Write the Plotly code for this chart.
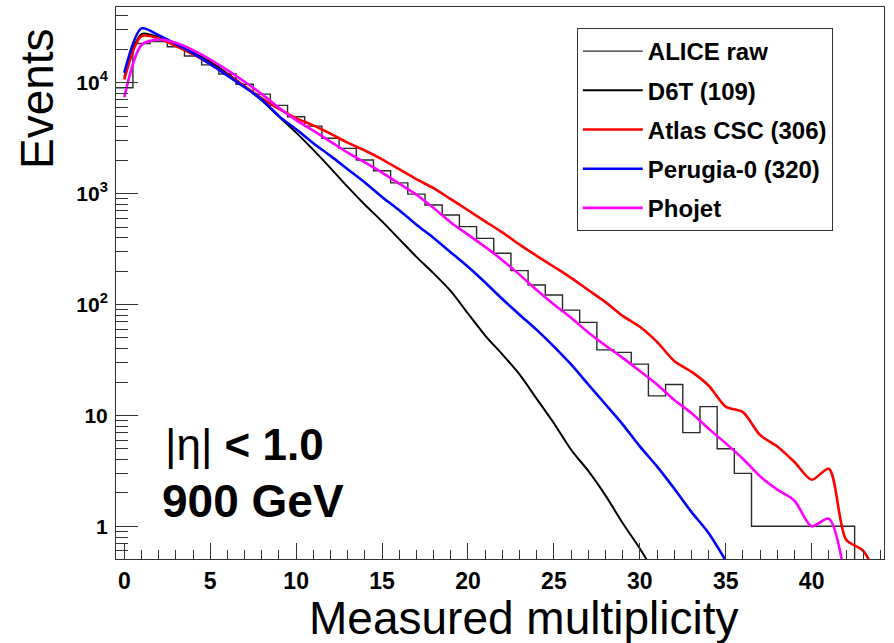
import plotly.graph_objects as go

# Raw ALICE multiplicity histogram (unit bins centred on integers)
alice_bins = list(range(0, 44))
alice_raw = [9000, 22600, 23500, 21100, 17400, 14500, 12000, 9700, 7900, 6250,
             4930, 4060, 3160, 2560, 2010, 1610, 1250, 990, 789, 641,
             504, 395, 290, 202, 150, 122, 89, 69, 39, 37,
             29, 15, 19, 7, 12, 5, 3, 1, 1, 1,
             1, 1, 1, 0]

# Monte Carlo predictions, evaluated at each multiplicity bin
d6t_x = list(range(0, 32))
d6t = [11200, 27500, 25700, 22400, 18800, 15400, 12100, 9300, 6900, 4950,
       3550, 2480, 1700, 1150, 794, 562, 389, 269, 191, 132,
       83, 52.5, 35.5, 23.4, 14.1, 8.5, 4.9, 3.16, 1.9, 1.07,
       0.63, 0.35]

atlas_x = list(range(0, 45))
atlas = [10700, 26300, 25100, 21400, 18000, 14700, 11800, 9300, 7250, 5800,
         4800, 4120, 3470, 2880, 2450, 2040, 1660, 1350, 1120, 891,
         708, 562, 447, 347, 275, 219, 174, 135, 105, 79,
         63, 46, 31, 24.8, 18.6, 12, 10.7, 6.65, 5.25, 3.8,
         2.63, 3.3, 0.76, 0.6, 0.3]

perugia_x = list(range(0, 36))
perugia = [12300, 30900, 26900, 22400, 18400, 14700, 11600, 9100, 7050, 5000,
           3800, 2850, 2190, 1660, 1260, 933, 708, 525, 398, 295,
           219, 158, 112, 81, 59, 41.7, 28.8, 19, 12.6, 8.3,
           5.25, 3.47, 2.19, 1.35, 0.87, 0.49]

phojet_x = list(range(0, 43))
phojet = [7410, 21900, 24500, 22900, 19700, 16200, 13000, 10200, 7900, 5950,
          4600, 3700, 2950, 2340, 1910, 1550, 1230, 977, 741, 550,
          427, 331, 251, 186, 135, 100, 76, 56, 42.7, 33,
          25.1, 19, 13.8, 10.5, 7.6, 5.6, 4.07, 2.82, 2.14, 1.7,
          1.0, 1.17, 0.3]

y_tickvals = [1, 10, 100, 1000, 10000]
y_ticktext = ["1", "10", "10<sup>2</sup>", "10<sup>3</sup>", "10<sup>4</sup>"]
x_tickvals = [0, 5, 10, 15, 20, 25, 30, 35, 40]

X_RANGE = [-0.483, 44.21]
LOG_Y_RANGE = [-0.295, 4.683]

FONT = "Liberation Sans, Arial, Helvetica, sans-serif"

# Step outline of the histogram: one point per bin edge
floor = 10 ** (LOG_Y_RANGE[0] - 1)
step_x = [b - 0.5 for b in alice_bins] + [alice_bins[-1] + 0.5]
step_y = [c if c > 0 else floor for c in alice_raw]
step_y = step_y + [step_y[-1]]

fig = go.Figure()

fig.add_trace(go.Scatter(
    x=step_x, y=step_y, mode="lines", name="ALICE raw",
    line=dict(color="#2a2a2a", width=1.4, shape="hv"),
    legendgroup="a",
))

curves = [
    ("D6T (109)", d6t_x, d6t, "#000000", 2.0, "b"),
    ("Atlas CSC (306)", atlas_x, atlas, "#ff0000", 2.6, "c"),
    ("Perugia-0 (320)", perugia_x, perugia, "#0000ff", 2.6, "d"),
    ("Phojet", phojet_x, phojet, "#ff00ff", 2.6, "e"),
]
for name, xs, ys, color, width, grp in curves:
    fig.add_trace(go.Scatter(
        x=xs, y=ys, mode="lines", name=name,
        line=dict(color=color, width=width, shape="spline", smoothing=0.8),
        legendgroup=grp,
    ))

y_minor = [m * 10 ** k for k in range(-1, 5) for m in range(2, 10)]
y_minor = [v for v in y_minor if 10 ** LOG_Y_RANGE[0] < v < 10 ** LOG_Y_RANGE[1]]

fig.update_xaxes(
    range=X_RANGE, showgrid=False, zeroline=False,
    showline=True, linecolor="#333333", linewidth=1, mirror=True,
    ticks="inside", ticklen=16, tickwidth=1, tickcolor="#333333",
    tickvals=x_tickvals, ticklabelstandoff=1,
    tickfont=dict(family=FONT, size=23, color="#000000", weight="bold"),
    minor=dict(ticks="inside", ticklen=9, tickwidth=1, tickcolor="#333333",
               dtick=1, tick0=0, showgrid=False),
)
fig.update_yaxes(
    type="log", range=LOG_Y_RANGE, showgrid=False, zeroline=False,
    showline=True, linecolor="#333333", linewidth=1, mirror=True,
    ticks="inside", ticklen=22, tickwidth=1, tickcolor="#333333",
    tickvals=y_tickvals, ticktext=y_ticktext, ticklabelstandoff=3,
    tickfont=dict(family=FONT, size=21, color="#000000", weight="bold"),
    minor=dict(ticks="inside", ticklen=12, tickwidth=1, tickcolor="#333333",
               tickvals=y_minor, showgrid=False),
)

fig.add_annotation(
    text="Events", textangle=-90, xref="paper", yref="paper",
    x=-0.1029, y=0.835, xanchor="center", yanchor="middle", showarrow=False,
    font=dict(family=FONT, size=46, color="#000000"),
)
fig.add_annotation(
    text="Measured multiplicity", xref="paper", yref="paper",
    x=0.5306, y=-0.106, xanchor="center", yanchor="middle", showarrow=False,
    font=dict(family=FONT, size=46, color="#000000"),
)
fig.add_annotation(
    text="|η| <b>&lt; 1.0</b>", xref="paper", yref="paper",
    x=0.0612, y=0.207, xanchor="left", yanchor="middle", showarrow=False,
    font=dict(family=FONT, size=44, color="#000000"),
)
fig.add_annotation(
    text="<b>900 GeV</b>", xref="paper", yref="paper",
    x=0.0573, y=0.105, xanchor="left", yanchor="middle", showarrow=False,
    font=dict(family=FONT, size=46, color="#000000"),
)

fig.update_layout(
    width=894, height=643,
    margin=dict(l=116, r=10, t=7, b=84),
    paper_bgcolor="white", plot_bgcolor="white",
    showlegend=True,
    legend=dict(
        x=0.600, y=0.962, xanchor="left", yanchor="top",
        bgcolor="white", bordercolor="#333333", borderwidth=1,
        font=dict(family=FONT, size=24, color="#000000", weight="bold"),
        tracegroupgap=5, itemwidth=60,
        entrywidth=285, entrywidthmode="pixels",
    ),
)

fig.write_html("out.html")
